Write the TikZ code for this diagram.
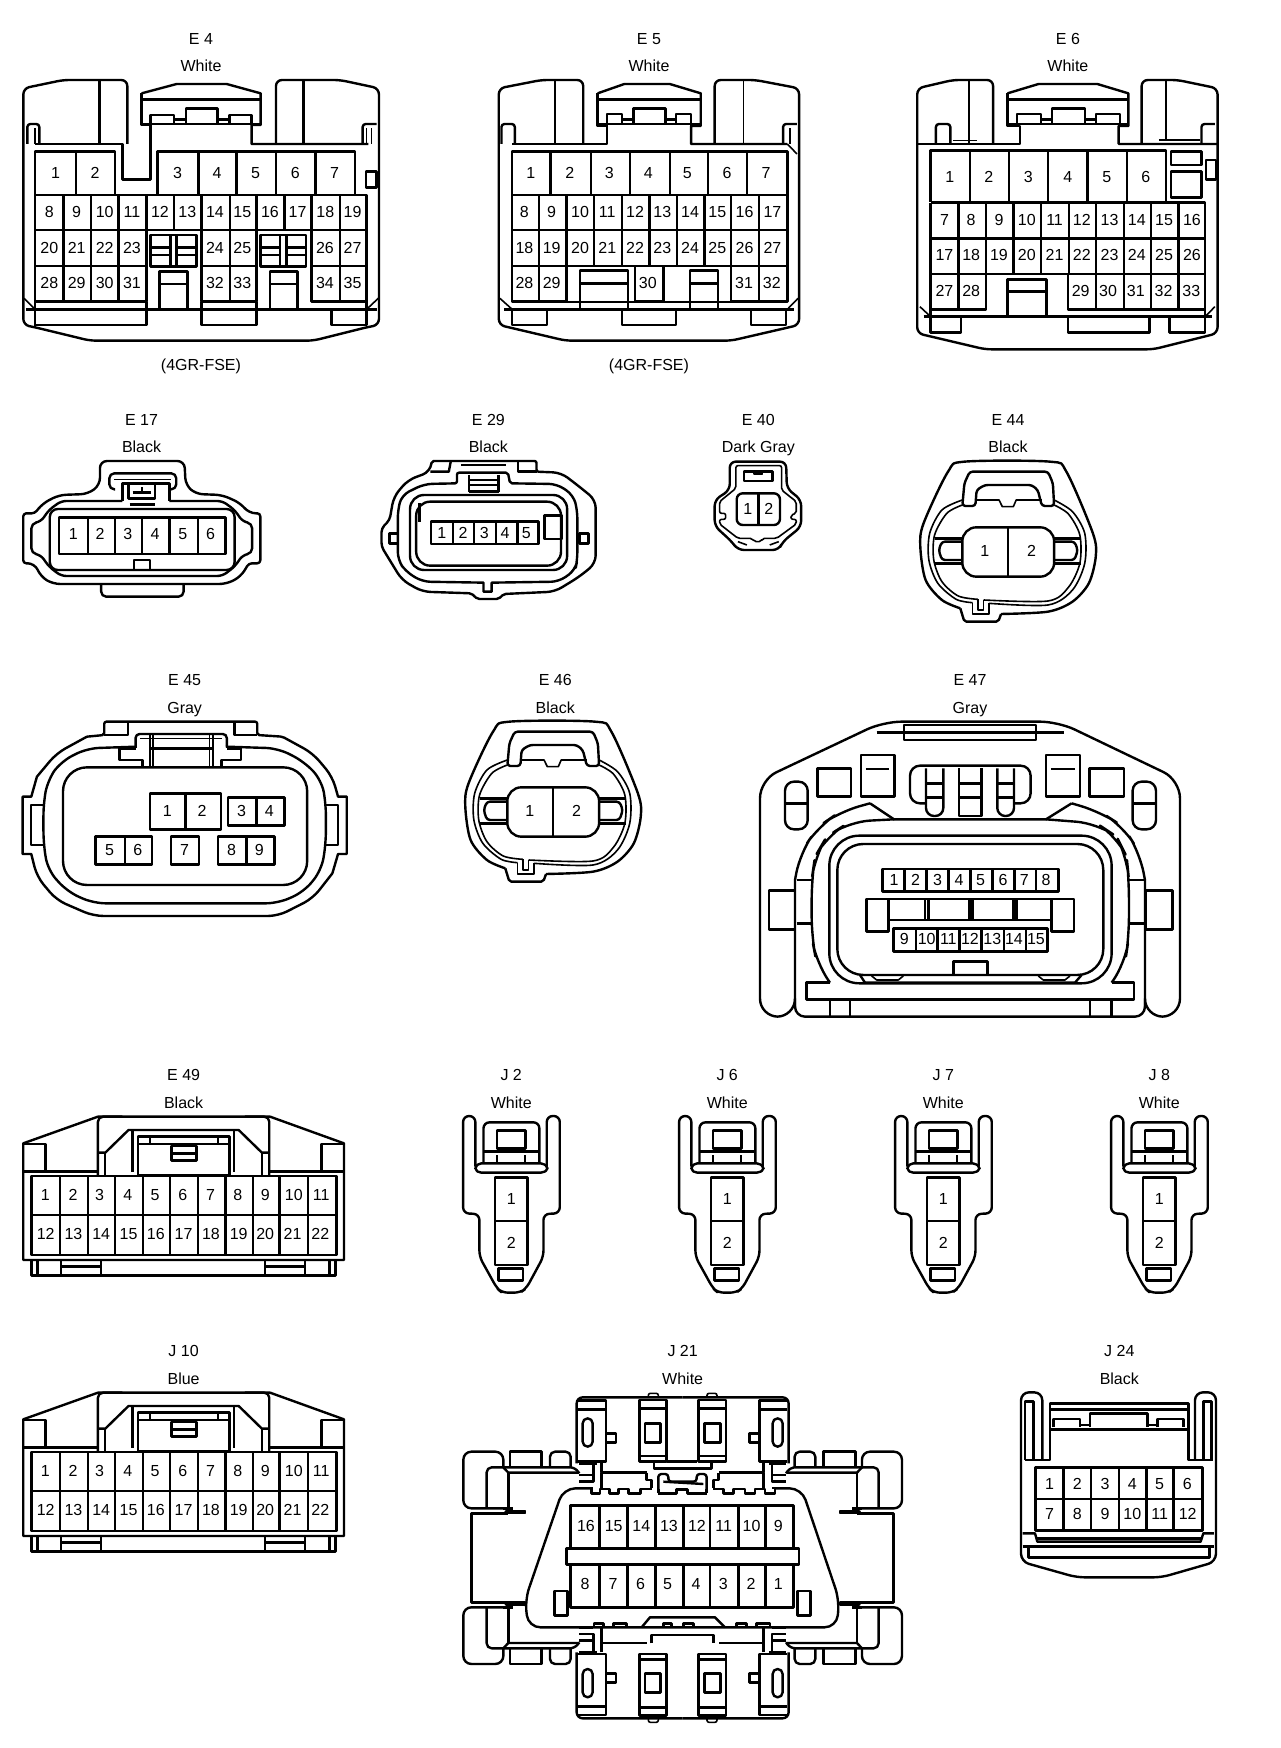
\documentclass[tikz,border=0pt]{standalone}
\usepackage{fontspec}
\setmainfont{Liberation Sans}
\newcounter{pn}
\tikzset{
 num/.style={inner sep=0pt,text height=11.6pt,text depth=0pt,font=\fontsize{16}{16}\selectfont},
 lab/.style={inner sep=0pt,text height=11.6pt,text depth=0pt,font=\fontsize{16}{16}\selectfont},
 tl/.style={line width=1.6pt},
}
\newcommand\nums[2]{\foreach \x/\n in {#2}{\stepcounter{pn}\node[num] (p\arabic{pn}) at (\x,#1) {\n};}}
\newcommand\vd[3]{\foreach \x in {#3}{\draw (\x,#1)--(\x,#2);}}
\newcommand\hd[3]{\foreach \y in {#3}{\draw (#1,\y)--(#2,\y);}}
\newcommand\lab[4]{\node[lab] (#1) at (#2,#3) {#4};}
% ---- E44/E46 plug
\newcommand\plugB{
 \draw plot[smooth,tension=.5] coordinates {(885,642)(1000,635)(1060,605)(1100,550)(1117,470)(1110,400)(1045,215)(1005,185)(795,185)(755,215)(695,370)(687,440)(700,540)(740,600)(785,625)};
 \draw[rounded corners=2pt] (785,625)--(795,665)--(878,665)--(885,642);
 \draw[tl] plot[smooth,tension=.5] coordinates {(790,300)(740,330)(710,400)(708,480)(730,550)(775,598)(815,608)};
 \draw[tl] (815,608)--(815,642)--(855,642)--(855,610);
 \draw[tl] plot[smooth,tension=.5] coordinates {(855,610)(1000,615)(1060,570)(1090,490)(1090,400)(1060,335)(1015,300)};
 \draw[tl] plot[smooth,tension=.5] coordinates {(790,315)(752,340)(722,405)(720,480)(740,545)(780,588)(828,598)};
 \draw[tl] (828,598)--(828,630)--(842,630)--(842,600);
 \draw[tl] plot[smooth,tension=.5] coordinates {(842,600)(1000,603)(1050,562)(1078,490)(1078,405)(1050,342)(1015,315)};
 \draw[rounded corners=3pt] (790,318)--(795,250)--(808,215)--(1000,215)--(1012,250)--(1015,318)--(985,318)--(975,270)--(960,255)--(845,255)--(825,270)--(822,318)--cycle;
 \draw[tl] (822,300)--(880,300)--(888,320)--(915,320)--(922,300)--(985,300);
 \draw[rounded corners=14pt,fill=white] (790,382) rectangle (1015,530);
 \draw[tl] (902,382)--(902,530);
 \draw (722,415)--(790,415);\draw (722,490)--(790,490);
 \draw (1015,415)--(1082,415);\draw (1015,490)--(1082,490);
 \draw[rounded corners=3pt] (790,425)--(740,425)--(732,450)--(740,480)--(790,480);
 \draw[rounded corners=3pt] (1015,425)--(1065,425)--(1073,450)--(1065,480)--(1015,480);
 \nums{453}{845/1,960/2}
}
% ---- J plugs
\newcommand\plugC{
 \draw[rounded corners=6pt] (1165,290)--(1165,138)--(1135,138)--(1135,430)--(1175,432)--(1175,560)--(1218,655)--(1230,668)--(1275,668)--(1290,655)--(1332,560)--(1332,432)--(1372,430)--(1372,138)--(1340,138)--(1340,290);
 \draw[rounded corners=6pt] (1185,280)--(1185,157)--(1322,157)--(1322,280);
 \draw[rounded corners=2pt] (1165,290)--(1175,280)--(1330,280)--(1342,290)--(1342,300)--(1330,308)--(1175,308)--(1165,300)--cycle;
 \draw (1185,245)--(1322,245);
 \draw[tl] (1218,255)--(1218,280);\draw[tl] (1287,255)--(1287,280);
 \draw (1218,182) rectangle (1288,235);
 \draw (1213,322) rectangle (1293,585);\draw (1213,453)--(1293,453);
 \draw (1222,595) rectangle (1282,632);
 \nums{385}{1253/1}\nums{517}{1253/2}
}
% ---- E49/J10 plug
\newcommand\plugD{
 \draw (57,220)--(240,140)--(662,140)--(843,220)--(843,570)--(57,570)--cycle;
 \draw (77,570)--(77,617)--(822,617)--(822,570);
 \vd{570}{617}{92,150,247,650,748,808}
 \hd{150}{247}{590}\hd{650}{748}{590}
 \draw (57,222)--(112,222)--(112,305);\draw (843,222)--(788,222)--(788,305);
 \draw (57,305)--(240,305);\draw (660,305)--(843,305);
 \draw[rounded corners=5pt] (240,318)--(240,140)--(300,140);
 \draw[rounded corners=5pt] (660,318)--(660,140)--(600,140);
 \draw (240,248)--(258,248)--(315,180)--(585,180)--(642,248)--(660,248);
 \draw (258,248)--(258,315);\draw (642,248)--(642,315);
 \draw (325,180)--(325,305);\draw (573,180)--(573,305);
 \draw (338,200) rectangle (562,315);\draw (338,222)--(562,222);
 \vd{202}{222}{368,535}
 \draw (420,228) rectangle (482,272);\draw (420,250)--(482,250);
 \draw (77,318) rectangle (825,555);
 \vd{318}{555}{147,215,282,350,417,485,553,620,685,755}
 \draw (77,435)--(825,435);
 \nums{375}{111/1,179/2,244/3,313/4,380/5,448/6,516/7,583/8,650/9,720/10,787/11}
 \nums{492}{112/12,180/13,248/14,315/15,382/16,450/17,517/18,585/19,650/20,717/21,785/22}
}
% ---- J21 quarter
\newcommand\jq{
 \draw[rounded corners=6pt] (698,52)--(380,52)--(380,250);
 \draw[tl,rounded corners=2pt] (595,52)--(595,40)--(625,40)--(625,52);
 \draw (385,62)--(468,62)--(468,245)--(385,245);
 \draw (385,88)--(468,88);
 \draw[rounded corners=5pt] (398,115) rectangle (428,200);
 \draw (468,160)--(498,160)--(498,187)--(468,187);
 \draw (568,60) rectangle (650,245);
 \draw (568,85)--(650,85);\draw (568,228)--(650,228);
 \draw (585,130) rectangle (632,187);
 \draw[rounded corners=8pt] (160,385)--(40,385)--(40,215)--(160,215)--(160,262);
 \draw (180,262)--(180,215)--(275,215)--(275,262);
 \draw[rounded corners=5pt] (300,262)--(300,215)--(362,215)--(362,262);
 \draw[rounded corners=5pt] (110,385)--(110,262)--(375,262)--(388,280);
 \draw (160,262)--(175,278)--(385,278);
 \draw (175,278)--(175,385);
 \draw (160,385)--(190,385);
 \draw (65,533.5)--(65,400)--(175,400);
 \draw[line width=4.6pt,line cap=round] (170,396)--(224,396);
 \draw (388,250)--(440,250);
 \draw (430,250)--(430,305)--(388,305);
 \hd{388}{430}{285,325}
 \draw (455,250)--(455,278)--(590,278);
 \draw (455,278)--(455,325);
}
\begin{document}
\begin{tikzpicture}[x=1pt,y=-1pt,line width=2.4pt,line join=round]
\useasboundingbox (0,0) rectangle (1280,1748);
\fill[white] (0,0) rectangle (1280,1748);
% ===== E4
\begin{scope}[scale=.3333]
\lab{E4a}{603}{117}{E 4}\lab{E4b}{603}{198}{White}\lab{E4c}{603}{1093}{(4GR-FSE)}
\draw[rounded corners=6pt] (382,432)--(382,240)--(190,240)--(70,265)--(70,975)--(105,982)--(270,1022)--(940,1022)--(1100,982)--(1137,975)--(1137,265)--(1020,240)--(828,240)--(828,432);
\draw (425,280)--(530,252)--(680,252)--(782,280)--(782,375)--(755,375)--(755,432)--(1105,432);
\draw (425,280)--(425,375)--(452,375)--(452,538)--(368,538)--(368,432)--(105,432);
\draw (425,298)--(782,298);\draw (425,372)--(782,372);
\draw (452,375)--(452,345)--(522,345)--(522,372);\draw (522,358)--(558,358);
\draw (558,372)--(558,325)--(652,325)--(652,372);\draw (652,358)--(688,358);
\draw (688,372)--(688,345)--(755,345)--(755,375);
\draw[rounded corners=3pt] (82,432)--(82,372)--(118,372)--(118,432);\draw[tl] (105,385)--(105,432);
\draw[rounded corners=3pt] (1088,432)--(1088,372)--(1130,372);\draw[tl] (1115,385)--(1115,432);\draw[tl] (1100,385)--(1100,432);
\draw (298,240)--(298,430);\draw (910,240)--(910,430);
\draw (105,585) -- (105,455)--(345,455)--(345,585);\draw (228,455)--(228,585);
\draw (472,585)--(472,455)--(1065,455)--(1065,585);\vd{455}{585}{595,710,828,947}
\draw (1098,515) rectangle (1130,562);
\draw (105,585)--(1100,585)--(1100,928);\draw (105,585)--(105,928);
\draw (105,690)--(1100,690);
\vd{585}{690}{190,273,355,440,522,605,690,770,853,935,1020}
\draw (105,905)--(440,905)--(440,690);\vd{690}{905}{190,273,355}\hd{105}{440}{798}
\draw (605,690)--(605,905)--(770,905)--(770,690);\draw (690,690)--(690,905);\hd{605}{770}{798}
\draw (935,690)--(935,905)--(1100,905);\draw (1020,690)--(1020,905);\hd{935}{1100}{798}
\draw (452,705) rectangle (590,800);\vd{705}{800}{512,530}\hd{452}{512}{742,765}\hd{530}{590}{742,765}
\draw (782,705) rectangle (918,800);\vd{705}{800}{840,860}\hd{782}{840}{742,765}\hd{860}{918}{742,765}
\draw (478,928)--(478,815)--(563,815)--(563,928);\draw (478,852)--(563,852);
\draw (810,928)--(810,815)--(892,815)--(892,928);\draw (810,852)--(892,852);
\draw (78,928)--(1130,928);
\draw[tl] (72,895)--(105,928);\draw[tl] (1135,895)--(1100,928);
\draw (105,928)--(105,975)--(440,975)--(440,905);
\draw (605,905)--(605,975)--(770,975)--(770,905);
\draw (995,928)--(995,975)--(1100,975)--(1100,928);
\draw[tl] (105,975)--(105,982);\draw[tl] (1100,975)--(1100,982);
\nums{517}{167/1,285/2,533/3,651/4,767/5,886/6,1004/7}
\nums{636}{148/8,230/9,314/10,396/11,480/12,562/13,645/14,727/15,810/16,893/17,976/18,1058/19}
\nums{742}{148/20,230/21,314/22,396/23,645/24,727/25,975/26,1058/27}
\nums{848}{148/28,230/29,314/30,396/31,645/32,727/33,975/34,1058/35}
\end{scope}
% ===== E5
\begin{scope}[shift={(440,0)},xscale=.5344,yscale=.3333]
\lab{E5a}{391}{117}{E 5}\lab{E5b}{391}{198}{White}\lab{E5c}{391}{1095}{(4GR-FSE)}
\draw[rounded corners=6pt] (268,432)--(268,240)--(190,240)--(110,265)--(110,975)--(235,1022)--(545,1022)--(672,975)--(672,265)--(590,240)--(514,240)--(514,432);
\draw (295,280)--(345,252)--(430,252)--(488,280)--(488,378)--(470,378)--(470,432)--(650,432);
\draw (295,280)--(295,378)--(312,378)--(312,432)--(135,432);
\draw (295,298)--(488,298);\draw (295,372)--(488,372);
\draw (312,378)--(312,342)--(340,342)--(340,372);\draw (340,358)--(362,358);
\draw (362,372)--(362,325)--(422,325)--(422,372);\draw (422,358)--(442,358);
\draw (442,372)--(442,342)--(470,342)--(470,378);
\draw[tl] (215,240)--(215,432);\draw[tl] (568,240)--(568,432);
\draw[rounded corners=3pt] (115,432)--(115,372)--(140,372)--(140,432);
\draw[rounded corners=3pt] (642,432)--(642,372)--(668,372);\draw[tl] (655,385)--(655,432);\draw[tl] (650,432)--(668,462);
\draw (135,455) rectangle (650,905);
\vd{455}{585}{207,282,355,430,502,575}
\hd{135}{650}{585,690,798}
\vd{585}{798}{185,237,288,340,392,443,495,545,597}
\vd{798}{905}{185,237,545,597}
\fill[white] (239,800) rectangle (543,903);
\draw (135,905)--(237,905);\draw (545,905)--(650,905);
\draw (365,798)--(365,905)--(418,905)--(418,798);
\draw (262,928)--(262,812)--(352,812)--(352,928);\draw (262,850)--(352,850);
\draw (468,928)--(468,812)--(520,812)--(520,928);\draw (468,850)--(520,850);
\draw (120,928)--(662,928);
\draw[tl] (112,895)--(135,928);\draw[tl] (670,895)--(650,928);
\draw (135,928)--(135,975)--(200,975)--(200,928);
\draw (340,928)--(340,975)--(442,975)--(442,928);
\draw (582,928)--(582,975)--(648,975)--(648,928);
\nums{517}{170/1,243/2,317/3,390/4,463/5,537/6,610/7}
\nums{636}{158/8,209/9,262/10,313/11,365/12,416/13,468/14,519/15,570/16,622/17}
\nums{742}{158/18,209/19,262/20,313/21,365/22,416/23,468/24,519/25,570/26,622/27}
\nums{848}{158/28,209/29,389/30,569/31,621/32}
\end{scope}
% ===== E6
\begin{scope}[shift={(440,0)},xscale=.5344,yscale=.3333]
\lab{E6a}{1175}{117}{E 6}\lab{E6b}{1175}{198}{White}
\draw[rounded corners=6pt] (1035,432)--(1035,240)--(960,240)--(893,265)--(893,1000)--(1020,1048)--(1335,1048)--(1455,1000)--(1455,265)--(1380,240)--(1313,240)--(1313,432);
\draw (1062,280)--(1120,252)--(1230,252)--(1288,280)--(1288,378)--(1270,378)--(1270,432)--(1455,432);
\draw (1062,280)--(1062,378)--(1085,378)--(1085,432)--(895,432);
\draw (1062,298)--(1288,298);\draw (1062,372)--(1288,372);
\draw (1080,375)--(1080,342)--(1125,342)--(1125,372);\draw (1125,358)--(1145,358);
\draw (1145,372)--(1145,325)--(1207,325)--(1207,372);\draw (1207,358)--(1228,358);
\draw (1228,372)--(1228,342)--(1272,342)--(1272,375);
\draw[tl] (990,240)--(990,432);\draw[tl] (1358,240)--(1358,418);
\draw[rounded corners=3pt] (928,432)--(928,372)--(955,372)--(955,432);
\draw[tl] (960,422)--(1005,422);\draw[tl] (1345,420)--(1422,420);
\draw[rounded corners=3pt] (1425,432)--(1425,372)--(1450,372);
\draw (918,605)--(918,452)--(1358,452)--(1358,605);\vd{452}{605}{992,1065,1138,1212,1285}
\draw (1368,455) rectangle (1425,495);\draw (1368,515) rectangle (1425,592);\draw (1433,480) rectangle (1452,538);
\draw (918,608)--(1432,608)--(1432,950);\draw (918,608)--(918,950);
\hd{918}{1432}{715,822}
\vd{608}{822}{970,1022,1073,1125,1177,1228,1280,1330,1382}
\vd{822}{928}{970,1228,1280,1330,1382}
\draw (918,928)--(1022,928)--(1022,822);
\draw (1175,822)--(1175,928)--(1432,928);
\draw (1062,950)--(1062,838)--(1135,838)--(1135,950);\draw (1062,875)--(1135,875);
\draw (905,950)--(1445,950);
\draw[tl] (898,920)--(918,950);\draw[tl] (1450,920)--(1432,950);
\draw (918,950)--(918,998)--(975,998)--(975,950);
\draw (1175,950)--(1175,998)--(1328,998)--(1328,950);
\draw (1365,950)--(1365,998)--(1432,998)--(1432,950);
\nums{530}{954/1,1027/2,1101/3,1175/4,1248/5,1321/6}
\nums{658}{944/7,994/8,1046/9,1098/10,1150/11,1201/12,1253/13,1304/14,1355/15,1407/16}
\nums{765}{944/17,994/18,1046/19,1098/20,1150/21,1201/22,1253/23,1304/24,1355/25,1407/26}
\nums{872}{944/27,994/28,1199/29,1250/30,1302/31,1354/32,1406/33}
\end{scope}
% ===== E17, E29
\begin{scope}[shift={(0,400)},xscale=.408,yscale=.3333]
\lab{E17a}{347}{58}{E 17}\lab{E17b}{347}{140}{Black}
\draw[rounded corners=7pt] (245,255)--(245,183)--(452,183)--(455,255)--(480,282)--(545,285)--(590,310)--(610,340) [rounded corners=3pt] --(638,340)--(638,490)--(610,490) [rounded corners=7pt] --(590,530)--(555,552)--(130,552)--(100,530)--(85,490) [rounded corners=3pt] --(57,490)--(57,340)--(85,340) [rounded corners=7pt] --(105,310)--(145,285)--(215,282)--cycle;
\draw[rounded corners=5pt] (300,303)--(150,303)--(120,330)--(100,365)--(77,370)--(77,460)--(100,465)--(120,500)--(150,528)--(545,528)--(575,500)--(595,465)--(618,460)--(618,370)--(595,365)--(575,330)--(545,303)--(415,303);
\draw[rounded corners=8pt] (122,327) rectangle (575,510);
\draw (145,352) rectangle (553,462);\vd{352}{462}{215,282,348,415,485}
\draw (328,510)--(328,480)--(368,480)--(368,510);
\draw[rounded corners=5pt] (248,552)--(248,590)--(450,590)--(450,552);
\draw[rounded corners=5pt] (282,268)--(268,268)--(268,220)--(432,220)--(432,268)--(415,268);
\draw[tl] (280,238)--(418,238);
\draw (300,303)--(300,250)--(415,250)--(415,303);
\draw (315,250)--(315,295)--(380,295)--(380,250);
\draw (325,278)--(370,278);\draw[tl] (348,262)--(348,278);
\draw (318,313)--(380,313);
\nums{402}{180/1,245/2,313/3,380/4,448/5,516/6}
\lab{E29a}{1197}{58}{E 29}\lab{E29b}{1197}{140}{Black}
\draw[rounded corners=8pt] (1000,240)--(1055,215) [rounded corners=2pt] --(1058,183)--(1315,183)--(1315,215) [rounded corners=8pt] --(1375,218)--(1420,260)--(1460,300)--(1460,490)--(1420,530)--(1360,575) [rounded corners=2pt] --(1235,582)--(1222,597)--(1170,597)--(1155,580) [rounded corners=8pt] --(1035,575)--(985,540)--(960,490) [rounded corners=4pt] --(935,440)--(935,385)--(955,360) [rounded corners=8pt] --(965,290)--cycle;
\draw (1105,183)--(1100,215)--(1055,215);\draw (1270,183)--(1270,215)--(1315,215);
\draw[tl] (1130,195)--(1240,195);
\draw[rounded corners=8pt] (1120,250)--(1040,252)--(985,285)--(975,330)--(975,480)--(995,515)--(1035,545) [sharp corners] --(1185,548)--(1185,575)--(1205,575)--(1205,548)[rounded corners=8pt] --(1370,545)--(1410,510)--(1415,480)--(1415,330)--(1405,285)--(1365,252) [rounded corners=2pt] --(1250,250)--(1245,218)--(1120,218)--cycle;
\vd{225}{275}{1150,1222}\hd{1150}{1222}{240,255,275}
\draw[rounded corners=14pt] (1005,285) rectangle (1390,510);
\draw[rounded corners=14pt] (1020,305) rectangle (1375,497);
\draw (1028,310)--(1028,365);
\draw (1335,347) rectangle (1378,417);
\draw (955,400) rectangle (975,430);\draw (1420,400) rectangle (1442,430);
\draw (1057,365) rectangle (1320,432);\vd{365}{432}{1110,1162,1215,1268}
\nums{398}{1083/1,1135/2,1187/3,1238/4,1290/5}
\end{scope}
% ===== E40, E44
\begin{scope}[shift={(640,400)},xscale=.408,yscale=.3333]
\lab{E40a}{290}{58}{E 40}\lab{E40b}{290}{140}{Dark Gray}
\draw[rounded corners=6pt] (220,270)--(220,185)--(358,185)--(360,265)--(395,300)--(395,380)--(350,425)--(340,450)--(240,450)--(225,425)--(183,378)--(183,300)--cycle;
\draw[tl,rounded corners=2pt] (235,265)--(235,197)--(347,197)--(347,270)--(383,305)--(383,340)--(370,345)--(370,358)--(383,358)--(383,372)--(335,415)--(300,415)--(297,425)--(280,425)--(275,415)--(240,415)--(195,372)--(195,358)--(210,358)--(210,340)--(195,340)--(195,305)--cycle;
\draw (255,215)--(255,243)--(325,243)--(325,215)--cycle;
\draw[tl] (280,215)--(280,222)--(300,222)--(300,215);
\draw[rounded corners=6pt] (237,280) rectangle (343,375);\draw (290,280)--(290,375);
\draw[tl] (240,425)--(262,435);\draw[tl] (318,435)--(340,425);
\nums{325}{264/1,316/2}
\lab{E44a}{902}{58}{E 44}\lab{E44b}{902}{140}{Black}
\plugB
\end{scope}
% ===== E45
\begin{scope}[shift={(0,670)},xscale=.4345,yscale=.3333]
\lab{E45a}{425}{30}{E 45}\lab{E45b}{425}{112}{Gray}
\draw[rounded corners=10pt] (200,200) [rounded corners=2pt] --(240,195)--(240,155)--(592,155)--(592,195)--(650,200) [rounded corners=10pt] --(720,250)--(765,320) [sharp corners] --(778,380)--(798,380)--(798,552)--(778,552)--(765,610) [rounded corners=10pt] --(720,685)--(640,738)--(215,738)--(130,690)--(85,620) [sharp corners] --(72,552)--(52,552)--(52,380)--(72,380)--(85,320) [rounded corners=10pt] --(130,250)--(200,200);
\draw (240,195)--(295,195)--(295,160);\draw (592,195)--(540,195)--(540,160);
\draw[rounded corners=12pt] (315,230)--(200,235)--(140,275)--(110,330)--(100,400)--(100,520)--(110,600)--(155,665)--(215,700)--(640,700)--(700,665)--(740,600)--(750,520)--(750,400)--(740,330)--(700,275)--(640,235)--(520,230);
\draw (100,405)--(72,405)--(72,525)--(100,525);\draw (750,405)--(778,405)--(778,525)--(750,525);
\draw[rounded corners=24pt] (145,292) rectangle (707,645);
\draw[rounded corners=4pt] (312,230)--(312,192)--(522,192)--(522,230);
\draw[tl] (322,205)--(510,205);\draw (345,235)--(490,235);
\vd{192}{290}{345}\draw[tl] (352,192)--(352,290);
\vd{192}{290}{490}\draw[tl] (482,192)--(482,290);
\draw (312,235)--(275,235)--(275,270)--(328,270)--(328,290);
\draw (522,235)--(555,235)--(555,270)--(510,270)--(510,290);
\draw (345,370) rectangle (508,478);\draw (427,370)--(427,478);
\draw (525,382) rectangle (655,467);\draw (590,382)--(590,467);
\draw (220,500) rectangle (350,583);\draw (287,500)--(287,583);
\draw (393,500) rectangle (458,583);
\draw (502,500) rectangle (632,583);\draw (567,500)--(567,583);
\nums{422}{385/1,465/2,556/3,620/4}
\nums{540}{252/5,317/6,425/7,533/8,597/9}
\end{scope}
% ===== E46
\begin{scope}[shift={(0,670)},xscale=.4345,yscale=.3333]
\lab{E46a}{1278}{30}{E 46}\lab{E46b}{1278}{112}{Black}
\end{scope}
\begin{scope}[shift={(185,660)},xscale=.408,yscale=.3333]
\plugB
\end{scope}
% ===== E47
\begin{scope}[shift={(750,670)},scale=.3333]
\lab{E47a}{660}{30}{E 47}\lab{E47b}{660}{112}{Gray}
\draw[rounded corners=18pt] (135,1012)--(135,1040)--(30,1040)--(30,330)--(400,155)--(925,155)--(1290,330)--(1290,1040)--(1185,1040)--(1185,1012);
\draw[rounded corners=10pt] (135,630)--(135,1040)--(1185,1040)--(1185,630);
\draw[rounded corners=20pt] (135,630)--(150,550)--(205,470)--(270,425)--(360,400);
\draw (360,400)--(432,448)--(888,448)--(965,400);
\draw[rounded corners=20pt] (965,400)--(1050,425)--(1120,470)--(1170,550)--(1185,630);
\draw[rounded corners=20pt] (432,448)--(300,455)--(230,500)--(195,560)--(185,630)--(185,800)--(200,880)--(240,938);
\draw[rounded corners=20pt] (888,448)--(1040,460)--(1100,500)--(1130,560)--(1137,630)--(1137,800)--(1125,880)--(1085,938);
\draw (240,938)--(170,938)--(170,988)--(1152,988)--(1152,938)--(1085,938);
\draw (57,662) rectangle (135,778);\draw (1187,662) rectangle (1267,778);
\hd{140}{185}{630,760}\hd{1137}{1185}{630,760}
\vd{988}{1040}{240,300,1020,1085}
\draw[rounded corners=30pt] (238,497) rectangle (1085,940);
\draw[rounded corners=26pt] (262,522) rectangle (1060,915);
\draw (330,915)--(345,938)--(975,938)--(995,915);
\draw[tl] (365,918)--(380,930)--(445,930)--(460,918);\draw[tl] (865,918)--(880,930)--(945,930)--(960,918);
\draw (398,597) rectangle (925,665);\vd{597}{665}{463,530,595,662,727,793,858}
\draw (350,687) rectangle (415,785);\draw (905,687) rectangle (972,785);
\draw (415,687)--(905,687);\draw (415,750)--(905,750);
\vd{687}{750}{525,535,658,668,790,800}
\draw (430,775) rectangle (892,845);\vd{775}{845}{498,563,628,695,762,828}
\draw (610,915)--(610,875)--(712,875)--(712,915);
\draw (462,165) rectangle (858,210);\draw (380,188)--(942,188);
\draw (202,295) rectangle (303,380);\draw (333,255) rectangle (433,380);\draw (348,297)--(418,297);
\draw (1018,295) rectangle (1122,380);\draw (888,255) rectangle (990,380);\draw (903,297)--(975,297);
\draw[rounded corners=9pt] (105,335) rectangle (173,478);\draw (105,400)--(173,400);
\draw[rounded corners=9pt] (1148,335) rectangle (1218,478);\draw (1148,400)--(1218,400);
\draw[rounded corners=10pt] (528,400)--(480,400)--(480,287)--(842,287)--(842,400)--(792,400);
\draw[rounded corners=8pt] (528,295)--(528,438)--(580,438)--(580,295);\hd{528}{580}{340,382}
\draw (627,295)--(627,438)--(695,438)--(695,295);\hd{627}{695}{340,382}
\draw[rounded corners=8pt] (742,295)--(742,438)--(792,438)--(792,295);\hd{742}{792}{340,382}
\nums{630}{432/1,497/2,563/3,627/4,692/5,759/6,823/7,888/8}
\nums{805}{463/9,530/10,595/11,660/12,727/13,792/14,858/15}
\end{scope}
% ===== E49
\begin{scope}[shift={(0,1070)},xscale=.408,yscale=.3333]
\lab{E49a}{450}{15}{E 49}\lab{E49b}{450}{97}{Black}
\plugD
\end{scope}
% ===== J10
\begin{scope}[shift={(0,1346)},xscale=.408,yscale=.3333]
\lab{J10a}{450}{15}{J 10}\lab{J10b}{450}{97}{Blue}
\plugD
\end{scope}
% ===== J2, J6, J7, J8
\begin{scope}[shift={(0,1070)},xscale=.408,yscale=.3333]
\lab{J2a}{1253}{15}{J 2}\lab{J2b}{1253}{97}{White}
\plugC
\end{scope}
\begin{scope}[shift={(216,1070)},xscale=.408,yscale=.3333]
\lab{J6a}{1253}{15}{J 6}\lab{J6b}{1253}{97}{White}
\plugC
\end{scope}
\begin{scope}[shift={(432,1070)},xscale=.408,yscale=.3333]
\lab{J7a}{1253}{15}{J 7}\lab{J7b}{1253}{97}{White}
\plugC
\end{scope}
\begin{scope}[shift={(648,1070)},xscale=.408,yscale=.3333]
\lab{J8a}{1253}{15}{J 8}\lab{J8b}{1253}{97}{White}
\plugC
\end{scope}
% ===== J21
\begin{scope}[shift={(450,1380)},scale=.3333]
\lab{J21a}{698}{-88}{J 21}\lab{J21b}{698}{-5}{White}
\begin{scope}[shift={(698,533.5)},xscale=1,yscale=1,shift={(-698,-533.5)}]\jq\end{scope}
\begin{scope}[shift={(698,533.5)},xscale=-1,yscale=1,shift={(-698,-533.5)}]\jq\end{scope}
\begin{scope}[shift={(698,533.5)},xscale=1,yscale=-1,shift={(-698,-533.5)}]\jq\end{scope}
\begin{scope}[shift={(698,533.5)},xscale=-1,yscale=-1,shift={(-698,-533.5)}]\jq\end{scope}
\draw (650,245)--(742,245);
\draw (612,245)--(612,265)--(785,265)--(785,245);
\draw (590,278)--(590,300)--(605,300)--(605,325);\draw (805,278)--(805,300)--(790,300)--(790,325);
\draw[rounded corners=3pt] (625,340)--(625,282)--(655,282)--(655,305)--(740,305)--(740,282)--(770,282)--(770,340);
\draw (640,305)--(760,312);
\draw (605,790)--(605,765)--(790,765)--(790,790);
\fill[white] (228,327) rectangle (1168,740);
\draw[rounded corners=12pt] (425,325)--(340,325)--(225,660)--(235,742)--(1160,742)--(1168,660)--(1055,325)--(975,325);
\draw (425,325)--(425,340)--(450,340)--(450,327)--(478,327)--(478,340)--(505,340)--(505,327)--(535,327)--(535,340)--(572,340)--(572,327)--(605,327);
\draw (790,327)--(820,327)--(820,340)--(850,340)--(850,327)--(885,327)--(885,340)--(915,340)--(915,327)--(945,327)--(945,340)--(975,340)--(975,325);
\draw (625,340)--(680,340)--(680,328)--(712,328)--(712,340)--(770,340);
\draw (625,340)--(625,327);\draw (770,340)--(770,327);
\draw (362,377) rectangle (1030,505);\vd{377}{505}{448,533,617,700,780,865,947}
\draw (350,505) rectangle (1047,553);
\draw (362,553) rectangle (1030,683);\vd{553}{683}{448,533,617,700,780,865,947}
\nums{437}{408/16,491/15,574/14,657/13,741/12,821/11,905/10,985/9}
\nums{612}{405/8,489/7,572/6,653/5,738/4,820/3,903/2,985/1}
\draw (313,633) rectangle (353,707);\draw (1042,633) rectangle (1082,707);
\draw (575,742)--(600,712)--(795,712)--(825,742);
\draw (432,742)--(432,730)--(460,730)--(460,742);\draw (490,742)--(490,730)--(530,730)--(530,742);
\draw (640,742)--(640,730)--(665,730)--(665,742);\draw (700,742)--(700,730)--(730,730)--(730,742);
\draw (860,742)--(860,730)--(890,730)--(890,742);\draw (920,742)--(920,730)--(960,730)--(960,742);
\end{scope}
% ===== J24
\begin{scope}[shift={(1010,1370)},scale=.3333]
\lab{J24a}{328}{-57}{J 24}\lab{J24b}{328}{25}{Black}
\draw[rounded corners=8pt] (97,270)--(97,67)--(33,67)--(33,575)--(200,622)--(455,622)--(618,575)--(618,67)--(555,67)--(555,270);
\draw (45,270)--(45,95)--(70,95)--(70,270);
\draw (580,270)--(580,95)--(605,95)--(605,270);
\draw (45,270)--(120,270)--(120,100)--(535,100)--(535,270)--(610,270);
\draw (120,118)--(535,118);
\draw (130,172)--(130,147)--(210,147)--(210,172);\draw (210,165)--(240,165);
\draw (240,172)--(240,130)--(412,130)--(412,172);\draw (412,165)--(442,165);
\draw (442,172)--(442,147)--(520,147)--(520,172);
\draw (120,178)--(535,178);
\draw (77,292) rectangle (577,482);\draw (77,387)--(577,387);
\vd{292}{482}{160,243,327,410,490}
\draw (38,490)--(75,490)--(82,515)--(572,515)--(580,490)--(612,490);
\draw (82,505)--(572,505);
\draw (38,530)--(612,530);
\draw (55,530)--(55,562)--(598,562)--(598,530);
\nums{340}{119/1,202/2,285/3,367/4,449/5,532/6}
\nums{432}{119/7,202/8,285/9,367/10,449/11,533/12}
\end{scope}
\end{tikzpicture}
\end{document}
